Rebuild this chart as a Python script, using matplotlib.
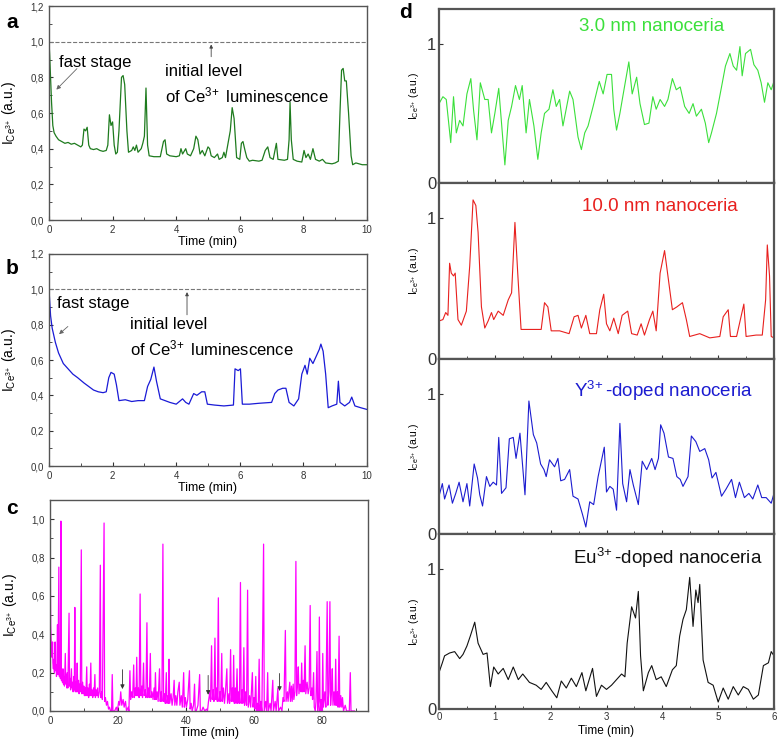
import matplotlib
matplotlib.use('Agg')
import matplotlib.pyplot as plt
from matplotlib.ticker import MultipleLocator

plt.rcParams['font.family'] = ['Liberation Sans', 'DejaVu Sans']
plt.rcParams['mathtext.default'] = 'regular'

# ---- panel a : green trace, 0-10 min ----
a_time = [0.00, 0.02, 0.05, 0.08, 0.12, 0.16, 0.22, 0.30, 0.40, 0.50,
          0.60, 0.70, 0.80, 0.90, 1.00, 1.05, 1.10, 1.15, 1.20, 1.25,
          1.30, 1.40, 1.50, 1.60, 1.70, 1.80, 1.85, 1.90, 1.95, 2.00,
          2.05, 2.10, 2.15, 2.20, 2.28, 2.33, 2.38, 2.45, 2.50, 2.60,
          2.65, 2.70, 2.75, 2.80, 2.90, 2.95, 3.00, 3.05, 3.10, 3.15,
          3.30, 3.50, 3.60, 3.65, 3.70, 3.80, 4.00, 4.10, 4.15, 4.20,
          4.30, 4.35, 4.45, 4.55, 4.62, 4.68, 4.75, 4.82, 4.90, 5.00,
          5.05, 5.10, 5.20, 5.30, 5.35, 5.45, 5.50, 5.55, 5.70, 5.76,
          5.82, 5.90, 6.00, 6.05, 6.10, 6.15, 6.22, 6.30, 6.40, 6.60,
          6.70, 6.80, 6.88, 6.95, 7.05, 7.15, 7.20, 7.40, 7.50, 7.55,
          7.58, 7.62, 7.68, 7.80, 7.95, 8.02, 8.08, 8.15, 8.22, 8.30,
          8.38, 8.50, 8.60, 8.70, 8.90, 9.00, 9.10, 9.15, 9.20, 9.25,
          9.30, 9.35, 9.42, 9.50, 9.55, 9.65, 9.75, 9.85, 9.95, 10.0]
a_int = [1.00, 0.93, 0.80, 0.66, 0.53, 0.49, 0.47, 0.45, 0.44, 0.43,
         0.435, 0.425, 0.43, 0.42, 0.41, 0.42, 0.51, 0.50, 0.52, 0.42,
         0.40, 0.395, 0.40, 0.39, 0.385, 0.39, 0.42, 0.59, 0.53, 0.55,
         0.42, 0.37, 0.38, 0.50, 0.80, 0.81, 0.76, 0.50, 0.38, 0.39,
         0.41, 0.39, 0.42, 0.38, 0.40, 0.43, 0.47, 0.74, 0.42, 0.36,
         0.355, 0.355, 0.44, 0.45, 0.37, 0.36, 0.355, 0.36, 0.40, 0.37,
         0.40, 0.37, 0.36, 0.40, 0.47, 0.45, 0.37, 0.39, 0.36, 0.41,
         0.40, 0.36, 0.35, 0.37, 0.34, 0.35, 0.38, 0.35, 0.50, 0.63,
         0.57, 0.35, 0.34, 0.43, 0.44, 0.40, 0.35, 0.33, 0.335, 0.33,
         0.335, 0.39, 0.41, 0.35, 0.34, 0.43, 0.34, 0.335, 0.34, 0.45,
         0.66, 0.45, 0.34, 0.33, 0.325, 0.39, 0.35, 0.37, 0.34, 0.40,
         0.34, 0.33, 0.34, 0.32, 0.315, 0.32, 0.33, 0.60, 0.84, 0.85,
         0.78, 0.78, 0.60, 0.36, 0.31, 0.32, 0.315, 0.31, 0.31, 0.31]

# ---- panel b : blue trace, 0-10 min ----
b_time = [0.00, 0.05, 0.10, 0.20, 0.30, 0.45, 0.60, 0.75, 0.90, 1.10,
          1.25, 1.40, 1.55, 1.70, 1.80, 1.88, 1.95, 2.05, 2.12, 2.20,
          2.40, 2.60, 2.80, 3.00, 3.10, 3.20, 3.30, 3.38, 3.50, 3.65,
          3.80, 4.00, 4.20, 4.30, 4.40, 4.55, 4.65, 4.80, 4.90, 4.98,
          5.20, 5.50, 5.80, 5.85, 5.95, 6.02, 6.08, 6.30, 6.60, 7.00,
          7.10, 7.20, 7.35, 7.45, 7.55, 7.70, 7.85, 7.95, 8.05, 8.12,
          8.20, 8.30, 8.40, 8.50, 8.55, 8.62, 8.70, 8.78, 8.90, 9.05,
          9.10, 9.15, 9.30, 9.45, 9.52, 9.62, 9.80, 10.0]
b_int = [1.00, 0.85, 0.78, 0.70, 0.64, 0.58, 0.55, 0.52, 0.50, 0.47,
         0.45, 0.43, 0.42, 0.415, 0.42, 0.50, 0.53, 0.52, 0.46, 0.37,
         0.375, 0.365, 0.37, 0.37, 0.45, 0.49, 0.56, 0.48, 0.38, 0.37,
         0.36, 0.35, 0.38, 0.36, 0.35, 0.41, 0.40, 0.42, 0.42, 0.35,
         0.345, 0.34, 0.345, 0.55, 0.54, 0.55, 0.35, 0.35, 0.355, 0.36,
         0.41, 0.43, 0.44, 0.44, 0.36, 0.34, 0.38, 0.52, 0.57, 0.52,
         0.61, 0.58, 0.62, 0.66, 0.69, 0.65, 0.52, 0.33, 0.34, 0.35,
         0.48, 0.36, 0.34, 0.36, 0.39, 0.34, 0.33, 0.32]

# ---- panel c : magenta trace, 0-90 min ----
c_time = [0, 0.1, 0.2, 0.3, 0.45, 0.6, 0.75, 0.85, 1.0, 1.15,
          1.3, 1.5, 1.6, 1.8, 1.9, 2.0, 2.2, 2.35, 2.6, 2.75,
          2.9, 3.05, 3.2, 3.35, 3.5, 3.65, 3.8, 3.95, 4.1, 4.25,
          4.5, 4.65, 4.8, 4.95, 5.1, 5.25, 5.6, 5.75, 5.9, 6.05,
          6.3, 6.45, 6.65, 6.8, 7.0, 7.15, 7.3, 7.45, 7.65, 7.8,
          8.0, 8.15, 8.4, 8.55, 8.75, 8.9, 9.2, 9.35, 9.6, 9.75,
          9.95, 10.1, 10.4, 10.55, 10.8, 10.95, 11.2, 11.35, 11.6, 11.75,
          12.0, 12.15, 12.4, 12.55, 12.8, 12.95, 13.2, 13.35, 13.6, 13.75,
          14.0, 14.2, 14.5, 14.8, 14.95, 15.2, 15.4, 15.9, 16.05, 16.3,
          16.6, 16.9, 17.2, 17.5, 17.8, 18.1, 18.3, 18.5, 19.0, 19.5,
          19.8, 20.2, 20.5, 20.8, 21.1, 21.5, 21.8, 22.2, 22.5, 23.0,
          23.2, 23.5, 23.7, 24.0, 24.3, 24.6, 24.8, 25.1, 25.3, 25.5,
          25.7, 26.0, 26.2, 26.5, 26.7, 27.0, 27.2, 27.5, 27.7, 28.0,
          28.2, 28.5, 28.7, 29.0, 29.2, 29.5, 29.7, 30.0, 30.3, 30.6,
          30.8, 31.0, 31.2, 31.5, 31.8, 32.2, 32.4, 32.7, 32.9, 33.2,
          33.4, 33.7, 33.9, 34.2, 34.4, 34.7, 34.85, 35.0, 35.2, 35.6,
          35.9, 36.2, 36.5, 36.7, 37.0, 37.3, 37.6, 38.0, 38.2, 38.6,
          38.9, 39.3, 39.5, 39.8, 40.1, 40.5, 41.0, 41.2, 41.5, 41.8,
          42.2, 42.5, 42.7, 43.0, 43.5, 44.0, 44.2, 44.6, 45.0, 45.5,
          46.0, 46.3, 46.6, 47.0, 47.2, 47.5, 47.7, 48.0, 48.2, 48.5,
          48.7, 49.0, 49.2, 49.5, 49.7, 50.0, 50.2, 50.5, 50.7, 51.0,
          51.3, 51.6, 52.0, 52.2, 52.6, 52.8, 53.1, 53.3, 53.6, 53.8,
          54.0, 54.2, 54.5, 54.7, 55.0, 55.2, 55.5, 55.7, 56.0, 56.2,
          56.5, 56.7, 57.0, 57.2, 57.5, 57.8, 58.1, 58.3, 58.7, 59.0,
          59.5, 59.7, 60.0, 60.2, 60.5, 60.7, 61.0, 61.2, 61.5, 61.7,
          62.0, 62.3, 62.8, 63.0, 63.4, 63.7, 64.0, 64.2, 64.7, 65.0,
          65.5, 65.7, 66.2, 66.5, 67.0, 67.2, 67.8, 68.2, 68.5, 68.8,
          69.2, 69.4, 69.8, 70.0, 70.5, 70.7, 71.0, 71.2, 71.5, 71.7,
          72.0, 72.3, 72.5, 72.8, 73.0, 73.2, 73.5, 73.8, 74.0, 74.2,
          74.5, 74.7, 75.0, 75.2, 75.6, 75.9, 76.2, 76.5, 76.7, 77.0,
          77.2, 77.5, 77.7, 78.0, 78.2, 78.5, 78.7, 79.0, 79.2, 79.4,
          79.7, 80.0, 80.2, 80.4, 80.8, 81.1, 81.5, 81.7, 82.0, 82.3,
          82.5, 82.8, 83.0, 83.2, 83.5, 83.8, 84.0, 84.2, 84.5, 84.7,
          85.0, 85.2, 85.5, 85.8, 86.0, 86.3, 86.8, 87.2, 88.0, 88.3,
          88.5, 89.5]
c_int = [1.0, 0.7, 0.45, 0.38, 0.32, 0.28, 0.36, 0.25, 0.22, 0.27,
         0.2, 0.36, 0.21, 0.24, 0.18, 0.2, 0.45, 0.19, 0.75, 0.18,
         0.23, 0.17, 0.99, 0.16, 0.21, 0.15, 0.22, 0.14, 0.18, 0.13,
         0.30, 0.14, 0.19, 0.12, 0.2, 0.12, 0.51, 0.13, 0.17, 0.11,
         0.22, 0.12, 0.15, 0.1, 0.18, 0.11, 0.54, 0.1, 0.15, 0.1,
         0.25, 0.1, 0.16, 0.09, 0.14, 0.1, 0.84, 0.09, 0.15, 0.09,
         0.13, 0.08, 0.12, 0.08, 0.23, 0.08, 0.12, 0.07, 0.14, 0.08,
         0.25, 0.08, 0.11, 0.07, 0.12, 0.08, 0.19, 0.07, 0.11, 0.08,
         0.12, 0.07, 0.1, 0.76, 0.07, 0.1, 0.06, 0.98, 0.05, 0.07,
         0.03, 0.05, 0.01, 0.02, 0.0, 0.0, 0.19, 0.0, 0.0, 0.02,
         0.0, 0.05, 0.03, 0.1, 0.03, 0.06, 0.02, 0.05, 0.0, 0.02,
         0.0, 0.21, 0.06, 0.1, 0.07, 0.24, 0.07, 0.12, 0.08, 0.28,
         0.08, 0.12, 0.07, 0.61, 0.08, 0.13, 0.07, 0.25, 0.08, 0.11,
         0.07, 0.46, 0.07, 0.12, 0.07, 0.3, 0.07, 0.1, 0.06, 0.12,
         0.06, 0.2, 0.06, 0.1, 0.05, 0.22, 0.05, 0.1, 0.05, 0.87,
         0.05, 0.09, 0.04, 0.2, 0.04, 0.08, 0.04, 0.27, 0.04, 0.09,
         0.03, 0.07, 0.16, 0.03, 0.08, 0.03, 0.1, 0.15, 0.03, 0.08,
         0.02, 0.2, 0.02, 0.07, 0.02, 0.06, 0.21, 0.01, 0.04, 0.0,
         0.03, 0.14, 0.0, 0.0, 0.03, 0.19, 0.0, 0.0, 0.02, 0.0,
         0.01, 0.0, 0.05, 0.1, 0.05, 0.34, 0.06, 0.11, 0.05, 0.38,
         0.06, 0.12, 0.05, 0.59, 0.05, 0.1, 0.05, 0.3, 0.05, 0.12,
         0.04, 0.1, 0.22, 0.04, 0.09, 0.04, 0.32, 0.05, 0.12, 0.05,
         0.29, 0.04, 0.12, 0.04, 0.22, 0.04, 0.1, 0.04, 0.67, 0.04,
         0.11, 0.04, 0.33, 0.03, 0.1, 0.03, 0.63, 0.02, 0.08, 0.02,
         0.2, 0.02, 0.07, 0.01, 0.18, 0.0, 0.04, 0.0, 0.27, 0.0,
         0.05, 0.0, 0.87, 0.0, 0.05, 0.0, 0.2, 0.0, 0.04, 0.0,
         0.16, 0.0, 0.05, 0.0, 0.12, 0.0, 0.02, 0.0, 0.07, 0.05,
         0.42, 0.05, 0.1, 0.05, 0.15, 0.05, 0.13, 0.05, 0.14, 0.06,
         0.1, 0.78, 0.08, 0.15, 0.23, 0.09, 0.14, 0.1, 0.25, 0.1,
         0.16, 0.1, 0.34, 0.09, 0.15, 0.09, 0.12, 0.55, 0.08, 0.12,
         0.06, 0.2, 0.02, 0.0, 0.05, 0.31, 0.0, 0.05, 0.49, 0.0,
         0.06, 0.0, 0.3, 0.02, 0.1, 0.02, 0.57, 0.03, 0.1, 0.57,
         0.03, 0.12, 0.22, 0.03, 0.1, 0.03, 0.27, 0.03, 0.1, 0.02,
         0.39, 0.02, 0.08, 0.02, 0.07, 0.0, 0.03, 0.0, 0.0, 0.2,
         0.0, 0.0]

# ---- panel d : four traces, 0-6 min ----
d1_time = [0, 0.07, 0.13, 0.21, 0.26, 0.31, 0.37, 0.43, 0.50, 0.57,
           0.62, 0.68, 0.74, 0.82, 0.88, 0.94, 1.00, 1.07, 1.18, 1.24,
           1.30, 1.37, 1.44, 1.49, 1.56, 1.62, 1.70, 1.77, 1.83, 1.89,
           1.97, 2.04, 2.10, 2.16, 2.22, 2.34, 2.40, 2.49, 2.55, 2.61,
           2.67, 2.76, 2.87, 2.94, 3.01, 3.09, 3.13, 3.18, 3.24, 3.30,
           3.40, 3.46, 3.54, 3.60, 3.68, 3.76, 3.83, 3.89, 3.96, 4.04,
           4.10, 4.18, 4.25, 4.32, 4.40, 4.48, 4.55, 4.61, 4.70, 4.77,
           4.83, 4.88, 4.97, 5.06, 5.13, 5.21, 5.27, 5.33, 5.39, 5.43,
           5.49, 5.58, 5.64, 5.71, 5.77, 5.83, 5.89, 5.95, 6.00]
d1_int = [0.57, 0.62, 0.60, 0.29, 0.62, 0.36, 0.45, 0.41, 0.64, 0.75,
          0.52, 0.31, 0.72, 0.60, 0.60, 0.36, 0.50, 0.68, 0.13, 0.45,
          0.55, 0.70, 0.60, 0.70, 0.36, 0.60, 0.41, 0.17, 0.36, 0.50,
          0.53, 0.67, 0.55, 0.60, 0.41, 0.66, 0.60, 0.33, 0.24, 0.36,
          0.41, 0.55, 0.73, 0.64, 0.78, 0.78, 0.53, 0.38, 0.50, 0.64,
          0.87, 0.64, 0.76, 0.57, 0.42, 0.43, 0.62, 0.53, 0.60, 0.55,
          0.60, 0.75, 0.67, 0.69, 0.55, 0.50, 0.57, 0.48, 0.53, 0.43,
          0.29, 0.36, 0.50, 0.69, 0.84, 0.93, 0.84, 0.81, 0.98, 0.77,
          0.93, 0.96, 0.85, 0.81, 0.72, 0.58, 0.72, 0.67, 0.73]

d2_time = [0, 0.07, 0.12, 0.16, 0.19, 0.22, 0.26, 0.29, 0.34, 0.40,
           0.49, 0.55, 0.61, 0.66, 0.70, 0.76, 0.82, 0.88, 0.94, 0.98,
           1.06, 1.15, 1.24, 1.30, 1.36, 1.41, 1.47, 1.62, 1.83, 1.89,
           1.95, 2.01, 2.16, 2.33, 2.42, 2.49, 2.55, 2.63, 2.70, 2.82,
           2.88, 2.95, 3.00, 3.06, 3.13, 3.21, 3.28, 3.38, 3.45, 3.55,
           3.62, 3.68, 3.77, 3.83, 3.89, 3.96, 4.04, 4.10, 4.18, 4.26,
           4.36, 4.43, 4.49, 4.67, 4.85, 5.03, 5.09, 5.18, 5.22, 5.33,
           5.46, 5.50, 5.68, 5.79, 5.85, 5.88, 5.92, 5.95, 6.00]
d2_int = [0.27, 0.28, 0.33, 0.31, 0.68, 0.61, 0.59, 0.61, 0.28, 0.24,
          0.34, 0.66, 1.13, 1.09, 0.90, 0.37, 0.22, 0.27, 0.33, 0.28,
          0.34, 0.31, 0.42, 0.47, 0.97, 0.61, 0.21, 0.21, 0.21, 0.40,
          0.37, 0.20, 0.20, 0.18, 0.30, 0.31, 0.22, 0.31, 0.18, 0.18,
          0.35, 0.46, 0.25, 0.20, 0.29, 0.18, 0.31, 0.34, 0.18, 0.17,
          0.25, 0.17, 0.28, 0.34, 0.20, 0.61, 0.77, 0.59, 0.35, 0.37,
          0.40, 0.28, 0.16, 0.18, 0.15, 0.16, 0.30, 0.35, 0.16, 0.16,
          0.39, 0.16, 0.17, 0.17, 0.42, 0.81, 0.59, 0.16, 0.15]

d3_time = [0, 0.06, 0.10, 0.18, 0.24, 0.30, 0.36, 0.43, 0.50, 0.55,
           0.63, 0.69, 0.73, 0.78, 0.85, 0.91, 0.97, 1.03, 1.07, 1.12,
           1.20, 1.26, 1.33, 1.38, 1.45, 1.54, 1.61, 1.69, 1.75, 1.82,
           1.88, 1.92, 1.98, 2.07, 2.13, 2.18, 2.25, 2.34, 2.40, 2.49,
           2.57, 2.63, 2.70, 2.77, 2.85, 2.96, 3.00, 3.06, 3.12, 3.18,
           3.24, 3.29, 3.36, 3.42, 3.48, 3.57, 3.64, 3.72, 3.81, 3.87,
           3.93, 3.97, 4.03, 4.11, 4.19, 4.26, 4.32, 4.37, 4.46, 4.52,
           4.60, 4.67, 4.76, 4.83, 4.89, 4.96, 5.06, 5.14, 5.24, 5.31,
           5.38, 5.47, 5.55, 5.62, 5.71, 5.78, 5.86, 5.95, 6.00]
d3_int = [0.27, 0.36, 0.25, 0.35, 0.22, 0.29, 0.37, 0.23, 0.36, 0.20,
          0.50, 0.40, 0.28, 0.20, 0.41, 0.34, 0.37, 0.35, 0.69, 0.29,
          0.33, 0.68, 0.69, 0.54, 0.72, 0.28, 0.95, 0.71, 0.65, 0.50,
          0.46, 0.41, 0.53, 0.48, 0.54, 0.38, 0.39, 0.46, 0.27, 0.25,
          0.14, 0.05, 0.23, 0.21, 0.41, 0.62, 0.30, 0.34, 0.32, 0.17,
          0.79, 0.36, 0.23, 0.46, 0.35, 0.21, 0.52, 0.46, 0.54, 0.46,
          0.54, 0.78, 0.72, 0.55, 0.54, 0.41, 0.39, 0.34, 0.41, 0.70,
          0.66, 0.59, 0.61, 0.53, 0.40, 0.44, 0.27, 0.32, 0.39, 0.26,
          0.37, 0.26, 0.29, 0.25, 0.35, 0.26, 0.26, 0.22, 0.29]

d4_time = [0, 0.06, 0.10, 0.19, 0.28, 0.37, 0.43, 0.50, 0.56, 0.64,
           0.70, 0.79, 0.86, 0.92, 0.98, 1.06, 1.15, 1.24, 1.33, 1.42,
           1.50, 1.62, 1.74, 1.83, 1.92, 2.02, 2.11, 2.19, 2.28, 2.37,
           2.46, 2.56, 2.63, 2.75, 2.82, 2.91, 3.00, 3.09, 3.18, 3.27,
           3.33, 3.37, 3.45, 3.52, 3.57, 3.61, 3.66, 3.75, 3.81, 3.89,
           3.98, 4.07, 4.18, 4.25, 4.31, 4.37, 4.43, 4.49, 4.55, 4.60,
           4.64, 4.67, 4.73, 4.82, 4.91, 5.00, 5.09, 5.18, 5.27, 5.36,
           5.45, 5.54, 5.63, 5.72, 5.81, 5.90, 5.95, 6.00]
d4_int = [0.26, 0.33, 0.38, 0.40, 0.41, 0.36, 0.39, 0.45, 0.52, 0.62,
          0.47, 0.39, 0.40, 0.16, 0.30, 0.25, 0.29, 0.21, 0.30, 0.21,
          0.25, 0.19, 0.17, 0.14, 0.19, 0.13, 0.08, 0.20, 0.15, 0.22,
          0.16, 0.26, 0.13, 0.29, 0.09, 0.17, 0.14, 0.17, 0.21, 0.25,
          0.23, 0.47, 0.73, 0.65, 0.84, 0.38, 0.13, 0.26, 0.31, 0.21,
          0.23, 0.16, 0.28, 0.31, 0.52, 0.64, 0.71, 0.94, 0.59, 0.85,
          0.76, 0.89, 0.35, 0.19, 0.17, 0.05, 0.15, 0.07, 0.16, 0.10,
          0.16, 0.14, 0.07, 0.10, 0.31, 0.33, 0.41, 0.38]

d_labels = ['3.0 nm nanoceria', '10.0 nm nanoceria',
            'Y$^{3\\!+}$-doped nanoceria', 'Eu$^{3\\!+}$-doped nanoceria']
d_colors = ['#3be03b', '#e8201e', '#1c1cd0', '#111111']

ylab = 'I$_{Ce^{3\\!+}}$ (a.u.)'
ce_text = 'of Ce$^{3\\!+}$ luminescence'
frame = '#555555'

fig = plt.figure(figsize=(7.78, 7.43), dpi=100)
W, H = 778.0, 743.0


def box(l, t, r, b):
    return [l / W, 1 - b / H, (r - l) / W, (b - t) / H]


def style_left(ax):
    for s in ax.spines.values():
        s.set_color(frame)
        s.set_linewidth(1.0)
    ax.tick_params(direction='in', which='both', top=False, right=False,
                   labelsize=7, colors='#333333', length=3)
    ax.tick_params(which='minor', length=2)


def comma(vals):
    return [('%.1f' % v).replace('.', ',') for v in vals]


# panel a
ax = fig.add_axes(box(49, 6, 367, 220))
ax.plot(a_time, a_int, color='#1e7b1e', lw=0.9)
ax.axhline(1.0, color='#777777', lw=0.8, ls='--')
ax.set_xlim(0, 10)
ax.set_ylim(0, 1.2)
ax.set_yticks([0, 0.2, 0.4, 0.6, 0.8, 1.0, 1.2])
ax.set_yticklabels(comma([0, 0.2, 0.4, 0.6, 0.8, 1.0, 1.2]))
ax.xaxis.set_major_locator(MultipleLocator(2))
ax.xaxis.set_minor_locator(MultipleLocator(1))
ax.yaxis.set_minor_locator(MultipleLocator(0.1))
style_left(ax)
ax.set_xlabel('Time (min)', fontsize=9, labelpad=1)
ax.set_ylabel(ylab, fontsize=10, labelpad=9)
ax.text(0.31, 0.885, 'fast stage', fontsize=12, va='center')
ax.annotate('', xy=(0.17, 0.72), xytext=(0.94, 0.86),
            arrowprops=dict(arrowstyle='-|>', color='#666666', lw=0.6,
                            mutation_scale=6))
ax.text(3.65, 0.835, 'initial level', fontsize=12, va='center')
ax.text(3.65, 0.70, ce_text, fontsize=12, va='center')
ax.annotate('', xy=(5.1, 1.0), xytext=(5.1, 0.9),
            arrowprops=dict(arrowstyle='-|>', color='#444444', lw=0.6,
                            mutation_scale=5))
fig.text(12 / W, 1 - 22 / H, 'a', fontsize=15, fontweight='bold',
         ha='center', va='center')

# panel b
ax = fig.add_axes(box(49, 254, 367, 466))
ax.plot(b_time, b_int, color='#1a1ad6', lw=0.9)
ax.axhline(1.0, color='#777777', lw=0.8, ls='--')
ax.set_xlim(0, 10)
ax.set_ylim(0, 1.2)
ax.set_yticks([0, 0.2, 0.4, 0.6, 0.8, 1.0, 1.2])
ax.set_yticklabels(comma([0, 0.2, 0.4, 0.6, 0.8, 1.0, 1.2]))
ax.xaxis.set_major_locator(MultipleLocator(2))
ax.xaxis.set_minor_locator(MultipleLocator(1))
ax.yaxis.set_minor_locator(MultipleLocator(0.1))
style_left(ax)
ax.set_xlabel('Time (min)', fontsize=9, labelpad=1)
ax.set_ylabel(ylab, fontsize=10, labelpad=9)
ax.text(0.25, 0.917, 'fast stage', fontsize=12, va='center')
ax.annotate('', xy=(0.25, 0.736), xytext=(0.66, 0.80),
            arrowprops=dict(arrowstyle='-|>', color='#666666', lw=0.6,
                            mutation_scale=6))
ax.text(2.55, 0.80, 'initial level', fontsize=12, va='center')
ax.text(2.55, 0.668, ce_text, fontsize=12, va='center')
ax.annotate('', xy=(4.34, 1.0), xytext=(4.34, 0.84),
            arrowprops=dict(arrowstyle='-|>', color='#444444', lw=0.6,
                            mutation_scale=5))
fig.text(12 / W, 1 - 268 / H, 'b', fontsize=15, fontweight='bold',
         ha='center', va='center')

# panel c
ax = fig.add_axes(box(50, 500, 368, 711))
ax.plot(c_time, c_int, color='#ff00ff', lw=0.9)
ax.set_xlim(0, 93.5)
ax.set_ylim(0, 1.1)
ax.set_yticks([0, 0.2, 0.4, 0.6, 0.8, 1.0])
ax.set_yticklabels(comma([0, 0.2, 0.4, 0.6, 0.8, 1.0]))
ax.xaxis.set_major_locator(MultipleLocator(20))
ax.xaxis.set_minor_locator(MultipleLocator(10))
ax.yaxis.set_minor_locator(MultipleLocator(0.1))
style_left(ax)
ax.set_xlabel('Time (min)', fontsize=9, labelpad=1)
ax.set_ylabel(ylab, fontsize=10, labelpad=9)
for xa, y0, y1 in [(21.3, 0.23, 0.10), (46.5, 0.20, 0.07), (67.5, 0.21, 0.09)]:
    ax.annotate('', xy=(xa, y1), xytext=(xa, y0),
                arrowprops=dict(arrowstyle='-|>', color='#333333', lw=0.6,
                                mutation_scale=6))
fig.text(12 / W, 1 - 508 / H, 'c', fontsize=15, fontweight='bold',
         ha='center', va='center')

# panel d
d_times = [d1_time, d2_time, d3_time, d4_time]
d_ints = [d1_int, d2_int, d3_int, d4_int]
d_bounds = [(9, 183), (183, 359), (359, 534), (534, 709)]
d_textpos = [(0.636, 0.897), (0.66, 0.864), (0.669, 0.817), (0.684, 0.863)]
for i in range(4):
    t, b = d_bounds[i]
    ax = fig.add_axes(box(439, t, 774, b))
    ax.plot(d_times[i], d_ints[i], color=d_colors[i], lw=0.8)
    ax.set_xlim(0, 6)
    ax.set_ylim(0, 1.25)
    ax.set_yticks([0, 1])
    ax.set_yticklabels(['0', '1'])
    ax.xaxis.set_major_locator(MultipleLocator(1))
    ax.xaxis.set_minor_locator(MultipleLocator(0.5))
    for s in ax.spines.values():
        s.set_color(frame)
        s.set_linewidth(1.6)
    ax.tick_params(direction='in', which='both', top=False, right=False,
                   colors='#333333', length=3)
    ax.tick_params(axis='y', labelsize=12, pad=2)
    ax.tick_params(axis='x', labelsize=7, pad=2)
    ax.tick_params(which='minor', length=2)
    if i < 3:
        ax.set_xticklabels([])
    else:
        ax.set_xlabel('Time (min)', fontsize=8.5, labelpad=2)
    ax.set_ylabel(ylab, fontsize=7.5, labelpad=4)
    tx, ty = d_textpos[i]
    ax.text(tx, ty, d_labels[i], transform=ax.transAxes, fontsize=13.5,
            color=d_colors[i], ha='center', va='center')
fig.text(405 / W, 1 - 12 / H, 'd', fontsize=15, fontweight='bold',
         ha='center', va='center')

fig.savefig('out.png', dpi=100)
